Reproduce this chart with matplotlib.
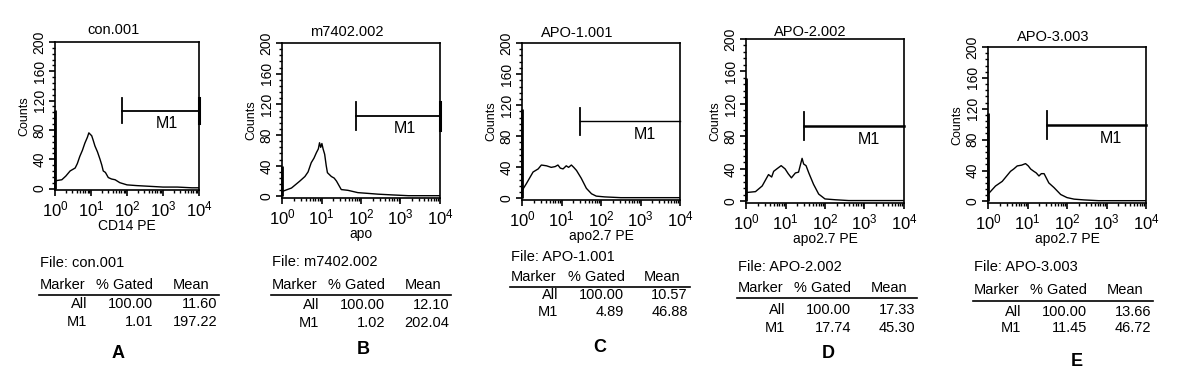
import numpy as np
import matplotlib
matplotlib.use("Agg")
import matplotlib.pyplot as plt
from matplotlib.ticker import LogLocator, MultipleLocator, FixedLocator

plt.rcParams['font.family'] = ['Liberation Sans', 'DejaVu Sans']
plt.rcParams['mathtext.fontset'] = 'custom'
plt.rcParams['mathtext.rm'] = 'Liberation Sans'
plt.rcParams['mathtext.it'] = 'Liberation Sans'
plt.rcParams['mathtext.default'] = 'regular'

# ---------------- data ----------------
titles = ["con.001", "m7402.002", "APO-1.001", "APO-2.002", "APO-3.003"]
xlabels = ["CD14 PE", "apo", "apo2.7 PE", "apo2.7 PE", "apo2.7 PE"]
letters = ["A", "B", "C", "D", "E"]

# histogram traces: positions in decades (log10 of fluorescence) and counts
A_dec = [0.00, 0.06, 0.19, 0.30, 0.42, 0.56, 0.62, 0.69, 0.76, 0.83, 0.90, 0.94, 0.98, 1.02, 1.06, 1.11, 1.18, 1.25, 1.30, 1.34, 1.40, 1.48, 1.57, 1.67, 1.80, 2.00, 2.27, 2.64, 3.0, 3.4, 3.8, 4.0]
A_cnt = [10, 11, 12, 17, 24, 28, 34, 44, 52, 62, 70, 76, 74, 72, 66, 58, 50, 40, 32, 24, 22, 15, 13, 12, 8, 5, 4, 3, 2, 2, 1, 1]
B_dec = [0.00, 0.03, 0.24, 0.45, 0.58, 0.66, 0.74, 0.81, 0.87, 0.92, 0.95, 0.98, 1.01, 1.04, 1.08, 1.12, 1.15, 1.25, 1.32, 1.38, 1.50, 1.67, 1.92, 2.18, 2.43, 2.8, 3.2, 3.6, 4.0]
B_cnt = [6, 7, 11, 20, 26, 32, 44, 50, 57, 62, 70, 64, 69, 62, 55, 40, 31, 26, 24, 20, 9, 8, 5, 4, 3, 2, 1, 1, 1]
C_dec = [0.00, 0.11, 0.28, 0.41, 0.49, 0.62, 0.74, 0.84, 0.91, 0.97, 1.04, 1.12, 1.18, 1.25, 1.31, 1.38, 1.50, 1.63, 1.76, 1.88, 2.09, 2.5, 3.0, 3.5, 4.0]
C_cnt = [10, 19, 34, 38, 43, 42, 40, 41, 43, 39, 38, 42, 40, 43, 40, 36, 26, 13, 6, 3, 2, 1, 1, 1, 1]
D_dec = [0.00, 0.03, 0.24, 0.41, 0.57, 0.65, 0.70, 0.78, 0.89, 0.99, 1.07, 1.15, 1.25, 1.33, 1.42, 1.46, 1.52, 1.59, 1.71, 1.84, 2.00, 2.26, 2.6, 3.0, 3.5, 4.0]
D_cnt = [10, 11, 12, 19, 33, 30, 37, 40, 44, 40, 34, 29, 35, 36, 53, 46, 44, 35, 21, 9, 3, 2, 1, 1, 1, 1]
E_dec = [0.00, 0.03, 0.19, 0.36, 0.57, 0.65, 0.74, 0.85, 0.95, 1.02, 1.08, 1.16, 1.22, 1.29, 1.35, 1.42, 1.54, 1.67, 1.84, 2.00, 2.18, 2.43, 2.8, 3.2, 3.6, 4.0]
E_cnt = [10, 11, 20, 26, 39, 42, 46, 47, 49, 46, 42, 39, 37, 33, 36, 36, 24, 18, 9, 5, 3, 2, 1, 1, 1, 1]

hist_dec = [A_dec, B_dec, C_dec, D_dec, E_dec]
hist_cnt = [A_cnt, B_cnt, C_cnt, D_cnt, E_cnt]
first_channel = [107, 40, 115, 152, 115]     # pile-up in channel 1

gate_start = [72, 75, 29.5, 29.5, 31]        # M1 marker lower bound
gate_end = [10000, 10000, 10000, 10000, 10000]
gate_level = [106, 105, 99, 93, 99]          # y level where marker is drawn

pct_all = ["100.00"] * 5
pct_m1 = ["1.01", "1.02", "4.89", "17.74", "11.45"]
mean_all = ["11.60", "12.10", "10.57", "17.33", "13.66"]
mean_m1 = ["197.22", "202.04", "46.88", "45.30", "46.72"]

# ---------------- layout (pixels) ----------------
W, H = 1178, 379
# axes box: left, right, top, bottom
boxes = [(55, 199, 42, 190), (282, 440, 43, 198), (522, 680, 43, 200),
         (746, 904, 39, 203), (988, 1146, 47, 203)]
title_x = [113, 347, 577, 810, 1053]
title_y = [30, 32, 33, 32, 37]
# table: line start x, File y, header y, line y, All y, M1 y, letter y, letter x
tables = [(39, 263, 285, 295, 304, 322, 353, 118),
          (271, 262, 285, 295, 305, 323, 350, 363),
          (510, 257, 277, 287, 295, 312, 347, 600),
          (737, 267, 288, 298, 310, 328, 353, 828),
          (973, 267, 290, 301, 312, 328, 362, 1077)]
bar_half = [17, 18, 18, 17, 18]
right_bar = [True, True, False, False, False]
gate_lw = [1.3, 1.3, 1.0, 1.8, 1.8]

fig = plt.figure(figsize=(W / 100, H / 100), dpi=100)

def fx(p):
    return p / W

def fy(p):
    return 1 - p / H

for i in range(5):
    l, r, t, b = boxes[i]
    ax = fig.add_axes([fx(l), fy(b), (r - l) / W, (b - t) / H])
    x = 10 ** np.array(hist_dec[i])
    y = np.array(hist_cnt[i])
    ax.plot(x, y, color='black', lw=1.0)
    ax.vlines(1.0, 0, first_channel[i], color='black', lw=2.0, clip_on=False)
    # marker M1
    gs, ge, gl = gate_start[i], gate_end[i], gate_level[i]
    ax.plot([gs, ge], [gl, gl], color='black', lw=gate_lw[i], clip_on=False)
    ax.plot([gs, gs], [gl - bar_half[i], gl + bar_half[i]], color='black', lw=1.3)
    if right_bar[i]:
        ax.plot([ge, ge], [gl - bar_half[i], gl + bar_half[i]], color='black', lw=2.2, clip_on=False)
    ax.text(10 ** 3.1, gl - 17, "M1", ha='center', va='center', fontsize=11.5)

    ax.set_xscale('log')
    ax.set_xlim(1, 10000)
    ax.set_ylim(-2, 200)
    ax.xaxis.set_major_locator(LogLocator(base=10, numticks=10))
    ax.xaxis.set_minor_locator(LogLocator(base=10, subs=np.arange(2, 10), numticks=10))
    ax.yaxis.set_major_locator(FixedLocator([0, 40, 80, 120, 160, 200]))
    ax.yaxis.set_minor_locator(MultipleLocator(8))
    ax.tick_params(axis='x', which='major', direction='out', length=4, width=1.2,
                   labelsize=12, pad=2.5)
    ax.tick_params(axis='y', which='major', direction='out', length=4, width=1.2,
                   labelsize=10, pad=2, labelrotation=90)
    ax.tick_params(axis='both', which='minor', direction='out', length=2.5, width=1.0)
    for lab in ax.get_yticklabels():
        lab.set_va('center')
    for sp in ax.spines.values():
        sp.set_linewidth(1.2)
    ax.set_ylabel("Counts", fontsize=9, labelpad=2)
    ax.set_xlabel(xlabels[i], fontsize=10, labelpad=0)
    fig.text(fx(title_x[i]), fy(title_y[i]), titles[i], ha='center', va='center', fontsize=10.5)

    # statistics table
    L, yf, yh, yl, ya, ym, yletter, xletter = tables[i]
    fs = 10.5
    fig.text(fx(L + 1), fy(yf), "File: " + titles[i], ha='left', va='center', fontsize=fs)
    fig.text(fx(L + 1), fy(yh), "Marker", ha='left', va='center', fontsize=fs)
    fig.text(fx(L + 86), fy(yh), "% Gated", ha='center', va='center', fontsize=fs)
    fig.text(fx(L + 134), fy(yh), "Mean", ha='left', va='center', fontsize=fs)
    fig.add_artist(plt.Line2D([fx(L), fx(L + 180)], [fy(yl), fy(yl)], color='black', lw=1.2))
    for yy, c1, c2, c3 in [(ya, "All", pct_all[i], mean_all[i]), (ym, "M1", pct_m1[i], mean_m1[i])]:
        fig.text(fx(L + 48), fy(yy), c1, ha='right', va='center', fontsize=fs)
        fig.text(fx(L + 114), fy(yy), c2, ha='right', va='center', fontsize=fs)
        fig.text(fx(L + 178), fy(yy), c3, ha='right', va='center', fontsize=fs)
    fig.text(fx(xletter), fy(yletter), letters[i], ha='center', va='center', fontsize=13,
             fontweight='bold')

fig.savefig("out.png", dpi=100)
